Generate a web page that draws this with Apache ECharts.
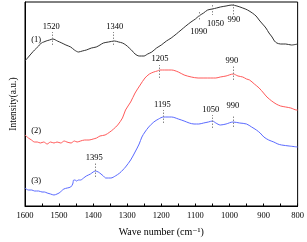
<!DOCTYPE html>
<html><head><meta charset="utf-8">
<script src="https://cdn.jsdelivr.net/npm/echarts@6/dist/echarts.min.js"></script>
<style>html,body{margin:0;padding:0;background:#fff}#c{width:307px;height:242px}</style>
</head><body><div id="c"></div>
<script>
// Curve (1) black: [wavenumber, intensity]
const wave1 = [1600,1590,1580,1572,1560,1552,1545,1538,1528,1518,1505,1492,1480,1466,1455,1443,1432,1420,1405,1391,1380,1370,1355,1337,1325,1314,1304,1294,1285,1277,1265,1251,1240,1228,1214,1200,1185,1171,1156,1142,1128,1113,1100,1090,1076,1064,1050,1038,1027,1010,993,978,961,947,933,922,913,903,893,884,875,868,861,850,835,818,800];
const int1  = [145,149,153,156,160,163,164,165,166,167,165,163,161,159,156,154,155,156,158,159,161,163,164,165,164,163,161,158,155,152,150,150,152,154,158,161,165,168,172,176,180,184,187,190,193,196,197,198,199,200,201,200,198,196,193,190,186,182,178,173,169,165,163,162,162,161,162];
// Curve (2) red
const wave2 = [1600,1590,1581,1572,1564,1555,1545,1535,1525,1515,1506,1495,1485,1477,1465,1455,1447,1437,1425,1412,1400,1390,1380,1365,1351,1340,1328,1314,1305,1290,1277,1262,1248,1235,1222,1212,1204,1190,1170,1150,1133,1112,1092,1075,1055,1040,1027,1010,989,975,961,950,941,927,913,900,890,876,863,850,835,820,803,800];
const int2  = [71,68,66,64,64,63,64,62,64,63,64,63,65,64,63,65,64,65,66,66,67,68,70,71,74,77,81,88,96,104,113,121,128,132,134,135,136,136,136,134,131,129,128,128,128,128,129,130,132,130,129,127,126,122,118,113,109,105,102,100,99,98,96,96];
// Curve (3) blue
const wave3 = [1600,1590,1580,1572,1560,1550,1543,1535,1525,1515,1506,1500,1493,1486,1476,1466,1460,1457,1453,1449,1443,1437,1428,1420,1408,1400,1394,1385,1377,1370,1363,1355,1348,1335,1322,1313,1305,1290,1277,1265,1257,1248,1237,1222,1208,1194,1180,1170,1150,1133,1118,1104,1090,1076,1062,1050,1040,1027,1010,990,970,950,935,921,910,899,885,870,858,847,825,800];
const int3  = [18,16,16,15,15,14,14,13,12,11,12,13,15,17,18,19,22,26,26,25,26,26,28,30,32,34,35,34,32,30,28,28,28,30,33,36,39,46,54,62,69,74,79,84,87,89,89,89,87,85,83,82,82,83,84,85,83,81,82,84,83,82,79,76,73,69,66,64,62,61,60,59];
// Peak annotations: wavenumber, dashed segment from/to (intensity), label position
const peakLabels = ['1520','1340','1090','1050','990','1205','990','1195','1050','990','1395'];
const peakWave   = [1520,1340,1090,1050,990,1205,990,1195,1050,990,1395];
const segFrom    = [161,161,194,201,202,128,126,83,78,79,29];
const segTo      = [174,174,186,191,191,141,141,96,91,91,43];
const labelWave  = [1523,1337,1090,1041,987,1204,993,1197,1055,990,1397];
const labelInt   = [179,179,174,182,186,147,145,101,96,100,48];
// Series tags
const tagText = ['(1)','(2)','(3)'];
const tagWave = [1567,1567,1567];
const tagInt  = [166,75,25];
const xTicks = [1600,1500,1400,1300,1200,1100,1000,900,800];

const FONT = '"Liberation Serif","DejaVu Serif",serif';
const colors = ['#333333','#ff5a5a','#5a6aff'];
const zip = (a,b)=>a.map((v,i)=>[v,b[i]]);

const series = [
  {data: zip(wave1,int1)}, {data: zip(wave2,int2)}, {data: zip(wave3,int3)}
].map((s,i)=>({
  type:'line', data:s.data, showSymbol:false, symbol:'none', smooth:0.3,
  lineStyle:{color:colors[i], width:1}, silent:true, z:3
}));

series.push({
  type:'line', data:[], silent:true,
  markLine:{
    symbol:'none', silent:true,
    lineStyle:{color:'#888', type:[1.5,1.5], width:1},
    label:{show:false},
    data: peakWave.map((w,i)=>[{coord:[w,segFrom[i]]},{coord:[w,segTo[i]]}])
  },
  markPoint:{
    symbol:'circle', symbolSize:0, silent:true,
    label:{show:true, position:'inside', color:'#000', fontFamily:FONT, fontSize:8.5,
      formatter:p=>p.name},
    data: peakLabels.map((t,i)=>({name:t, coord:[labelWave[i],labelInt[i]]}))
      .concat(tagText.map((t,i)=>({name:t, coord:[tagWave[i],tagInt[i]]})))
  }
});

const chart = echarts.init(document.getElementById('c'), null, {renderer:'canvas'});
chart.setOption({
  animation:false,
  backgroundColor:'#fff',
  grid:{left:20, right:8, top:2, bottom:36, show:true, borderColor:'#000', borderWidth:1, backgroundColor:'transparent'},
  xAxis:{
    type:'value', min:800, max:1600, interval:100, inverse:true,
    name:'Wave number (cm\u207B\u00B9)', nameLocation:'middle', nameGap:21,
    nameTextStyle:{fontFamily:FONT, fontSize:10, color:'#000'},
    axisLine:{show:true, lineStyle:{color:'#000', width:1}},
    axisTick:{show:true, inside:true, length:2.5, lineStyle:{color:'#000'}},
    minorTick:{show:true, splitNumber:2, length:2.5, lineStyle:{color:'#000'}},
    axisLabel:{fontFamily:FONT, fontSize:8.5, color:'#000', margin:5,
      formatter:v=>xTicks.includes(v)?String(v):''},
    splitLine:{show:false}
  },
  yAxis:{
    type:'value', min:0, max:204,
    name:'Intensity(a.u.)', nameLocation:'middle', nameGap:7, nameRotate:90,
    nameTextStyle:{fontFamily:FONT, fontSize:9.5, color:'#000'},
    axisLine:{show:true, lineStyle:{color:'#000', width:1}},
    axisTick:{show:false}, axisLabel:{show:false}, splitLine:{show:false}
  },
  series: series
});
</script></body></html>
